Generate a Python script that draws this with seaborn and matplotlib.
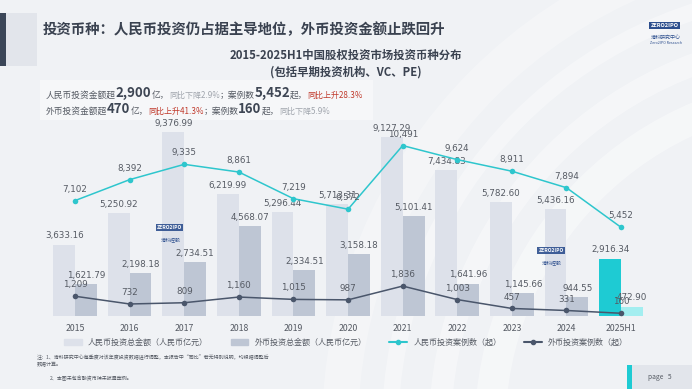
import numpy as np
import pandas as pd
import matplotlib.pyplot as plt
import matplotlib.patches as mpatches
from matplotlib.lines import Line2D
import seaborn as sns

sns.set_style("white")
plt.rcParams['font.family'] = ['Noto Sans CJK SC', 'DejaVu Sans']

years = ['2015', '2016', '2017', '2018', '2019', '2020', '2021', '2022', '2023', '2024', '2025H1']
rmb_amount = [3633.16, 5250.92, 9376.99, 6219.99, 5296.44, 5713.31, 9127.29, 7434.83, 5782.60, 5436.16, 2916.34]
fx_amount = [1621.79, 2198.18, 2734.51, 4568.07, 2334.51, 3158.18, 5101.41, 1641.96, 1145.66, 944.55, 472.90]
rmb_cases = [7102, 8392, 9335, 8861, 7219, 6572, 10491, 9624, 8911, 7894, 5452]
fx_cases = [1209, 732, 809, 1160, 1015, 987, 1836, 1003, 457, 331, 160]

s_rmb_amt = '人民币投资总金额（人民币亿元）'
s_fx_amt = '外币投资总金额（人民币亿元）'
s_rmb_cnt = '人民币投资案例数（起）'
s_fx_cnt = '外币投资案例数（起）'

c_rmb_bar = '#dde1ea'
c_fx_bar = '#bec6d4'
c_rmb_hi = '#1ecbd3'
c_fx_hi = '#a3eef0'
c_rmb_line = '#2ec6cd'
c_fx_line = '#4a566b'
txt = '#555a63'

df = pd.DataFrame({
    'year': years * 2,
    'amount': rmb_amount + fx_amount,
    'series': [s_rmb_amt] * len(years) + [s_fx_amt] * len(years),
})

fig = plt.figure(figsize=(6.92, 3.89), dpi=100)
fig.patch.set_facecolor('#f0f2f5')

# background (pixel coords, y measured from top)
bg = fig.add_axes([0, 0, 1, 1], zorder=-10)
bg.set_xlim(0, 692)
bg.set_ylim(0, 389)
bg.axis('off')

def rect(x, y, w, h, **kw):
    bg.add_patch(mpatches.Rectangle((x, 389 - y - h), w, h, lw=0, **kw))

for r, lw, a in [(340, 22, 0.4), (390, 16, 0.38), (440, 12, 0.35), (490, 26, 0.28)]:
    bg.add_patch(mpatches.Arc((830, 389 - 430), 2 * r, 2 * r, theta1=90, theta2=180,
                              color='white', lw=lw, alpha=a))
rect(0, 13, 37, 53, color='#e2e5eb')
rect(0, 13, 6, 53, color='#3b4658')
rect(40, 80, 333, 40, color='white', alpha=0.45)
rect(627, 365, 5, 24, color='#1ecbd3')
rect(632, 365, 60, 24, color='#e2e5eb')

fig.text(0.061, 0.923, '投资币种：人民币投资仍占据主导地位，外币投资金额止跌回升',
         fontsize=10.4, fontweight='bold', color='#3a4250', va='center')
fig.text(0.5, 0.858, '2015-2025H1中国股权投资市场投资币种分布', fontsize=8.2,
         fontweight='bold', color='#3a4250', ha='center', va='center')
fig.text(0.5, 0.816, '(包括早期投资机构、VC、PE)', fontsize=8.2,
         fontweight='bold', color='#3a4250', ha='center', va='center')
fig.text(0.94, 0.935, 'ZERO2IPO', fontsize=4, color='white', fontweight='bold',
         va='center', bbox=dict(boxstyle='square,pad=0.2', fc='#2d4f8e', ec='none'))
fig.text(0.94, 0.905, '清科研究中心', fontsize=3.6, color='#2d4f8e', va='center')
fig.text(0.94, 0.89, 'Zero2IPO Research', fontsize=2.6, color='#2d4f8e', va='center')
fig.text(0.937, 0.032, 'page   5', fontsize=4.8, color='#555a63', va='center')

# watermark logos inside chart
for fx_, fy_ in [(0.227, 0.414), (0.778, 0.355)]:
    fig.text(fx_, fy_, 'ZERO2IPO', fontsize=3.6, color='white', fontweight='bold',
             va='center', bbox=dict(boxstyle='square,pad=0.2', fc='#2d4f8e', ec='none', alpha=0.9))
    fig.text(fx_ + 0.005, fy_ - 0.03, '清科控股', fontsize=3.6, color='#2d4f8e', va='center')


def chain(y, parts):
    t = None
    for s, fs, col, fw in parts:
        if t is None:
            t = fig.text(0.066, y, s, fontsize=fs, color=col, fontweight=fw, va='baseline')
        else:
            t = plt.annotate(s, xy=(1, 0), xycoords=t, xytext=(0, 0), textcoords='offset points',
                             fontsize=fs, color=col, fontweight=fw, va='bottom', ha='left',
                             annotation_clip=False)


gray = '#a0a5ad'
red = '#c0392b'
dark = '#3e4654'
chain(0.748, [('人民币投资金额超', 6.3, txt, 'normal'), ('2,900', 9.5, dark, 'bold'),
              ('亿，', 6.3, txt, 'normal'), ('同比下降2.9%', 5.8, gray, 'normal'),
              ('；案例数', 6.3, txt, 'normal'), ('5,452', 9.5, dark, 'bold'),
              ('起，', 6.3, txt, 'normal'), ('同比上升28.3%', 5.8, red, 'normal')])
chain(0.707, [('外币投资金额超', 6.3, txt, 'normal'), ('470', 9.5, dark, 'bold'),
              ('亿，', 6.3, txt, 'normal'), ('同比上升41.3%', 5.8, red, 'normal'),
              ('；案例数', 6.3, txt, 'normal'), ('160', 9.5, dark, 'bold'),
              ('起，', 6.3, txt, 'normal'), ('同比下降5.9%', 5.8, gray, 'normal')])

ax = fig.add_axes([0.069, 0.188, 0.868, 0.555])
ax.patch.set_alpha(0)
sns.barplot(data=df, x='year', y='amount', hue='series', ax=ax, width=0.8,
            palette=[c_rmb_bar, c_fx_bar], legend=False, saturation=1)
n = len(years)
for i, p in enumerate(ax.patches[:2 * n]):
    p.set_linewidth(0)
    if i == n - 1:
        p.set_facecolor(c_rmb_hi)
    if i == 2 * n - 1:
        p.set_facecolor(c_fx_hi)
for i, p in enumerate(ax.patches[:2 * n]):
    v = rmb_amount[i] if i < n else fx_amount[i - n]
    ax.annotate(f'{v:,.2f}', (p.get_x() + p.get_width() / 2, p.get_height()),
                xytext=(0, 3), textcoords='offset points', ha='center', va='bottom',
                fontsize=6.3, color=txt, family='DejaVu Sans')
ax.set_ylim(0, 11000)
ax.set_xlim(-0.5, n - 0.5)
ax.set_yticks([])
ax.set_xlabel('')
ax.set_ylabel('')
ax.tick_params(axis='x', length=0, labelsize=6.3, labelcolor=txt, pad=6)
for s in ax.spines.values():
    s.set_visible(False)

ax2 = ax.twinx()
x = np.arange(n)
sns.lineplot(x=x, y=rmb_cases, ax=ax2, color=c_rmb_line, marker='o', markersize=4,
             markeredgewidth=0, linewidth=1.1)
sns.lineplot(x=x, y=fx_cases, ax=ax2, color=c_fx_line, marker='o', markersize=4,
             markeredgewidth=0, linewidth=1.1)
for xi, v in zip(x, rmb_cases):
    ax2.annotate(f'{v:,}', (xi, v), xytext=(0, 5), textcoords='offset points',
                 ha='center', va='bottom', fontsize=6.3, color=txt, family='DejaVu Sans')
for xi, v in zip(x, fx_cases):
    ax2.annotate(f'{v:,}', (xi, v), xytext=(0, 5), textcoords='offset points',
                 ha='center', va='bottom', fontsize=6.3, color=txt, family='DejaVu Sans')
ax2.set_ylim(0, 13300)
ax2.set_yticks([])
ax2.set_xlim(-0.5, n - 0.5)
for s in ax2.spines.values():
    s.set_visible(False)

handles = [mpatches.Patch(color=c_rmb_bar, label=s_rmb_amt),
           mpatches.Patch(color=c_fx_bar, label=s_fx_amt),
           Line2D([], [], color=c_rmb_line, marker='o', markersize=3, label=s_rmb_cnt),
           Line2D([], [], color=c_fx_line, marker='o', markersize=3, label=s_fx_cnt)]
fig.legend(handles=handles, loc='center', bbox_to_anchor=(0.5, 0.12), ncol=4,
           frameon=False, fontsize=5.8, handlelength=2.2, handleheight=0.6,
           columnspacing=2.8, labelcolor=txt)

fig.text(0.053, 0.072, '注：1、清科研究中心每季度对该年度投资数据进行调整，本报告中“同比”若无特别说明，均根据调整后\n数据计算。',
         fontsize=3.6, color=txt, va='center', linespacing=1.6)
fig.text(0.072, 0.028, '2、本图未包含融资币种未披露案例。', fontsize=3.6, color=txt, va='center')

fig.savefig('out.png', dpi=100, facecolor=fig.get_facecolor())
